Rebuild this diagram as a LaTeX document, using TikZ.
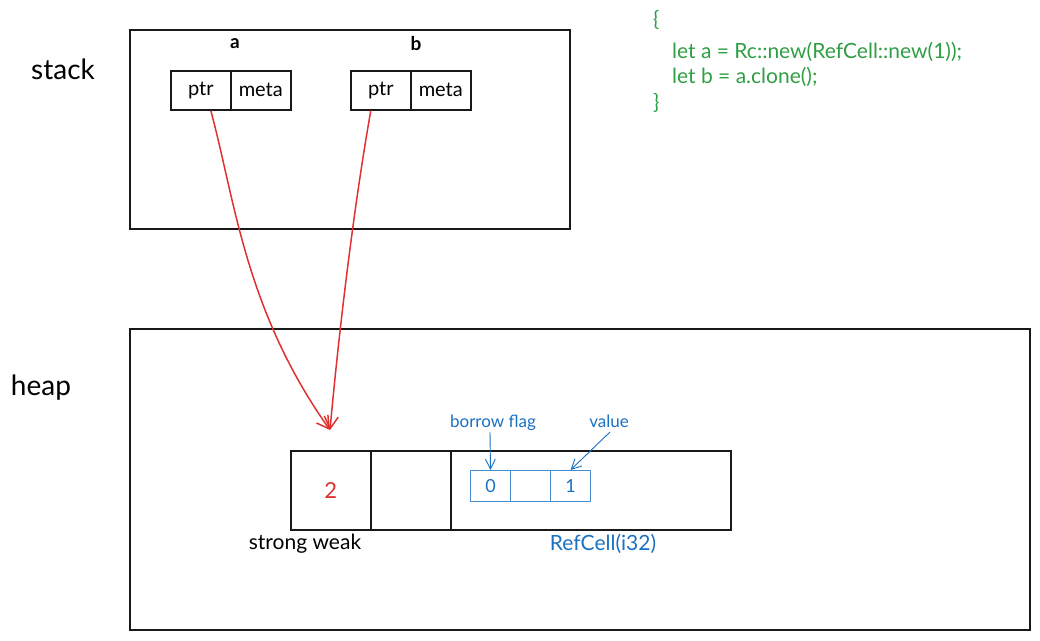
\documentclass[tikz,border=0pt]{standalone}
\usepackage{fontspec}
\setmainfont{Lato}
\usetikzlibrary{arrows.meta}
\definecolor{exred}{HTML}{E03131}
\definecolor{exgreen}{HTML}{2F9E44}
\definecolor{exblue}{HTML}{1971C2}
\begin{document}
\begin{tikzpicture}[x=1pt,y=-1pt,
  frame/.style={draw=black!90,line width=1.6pt},
  cell/.style={draw=black!90,line width=1.6pt,minimum width=60pt,minimum height=39pt,inner sep=0pt,font=\fontsize{20}{22}\selectfont,anchor=north west},
  bcell/.style={draw=exblue!80,line width=1pt,minimum width=40pt,minimum height=31pt,inner sep=0pt,font=\fontsize{18}{20}\selectfont,text=exblue,anchor=north west},
  hcell/.style={draw=black!90,line width=1.6pt,minimum width=80pt,minimum height=79pt,inner sep=0pt,anchor=north west},
  big/.style={font=\fontsize{28}{32}\selectfont},
  ptrarrow/.style={draw=exred,line width=1.5pt,-{Straight Barb[length=12pt,width=14pt,line width=1.5pt]}},
  bluearrow/.style={draw=exblue,line width=0.9pt,-{Straight Barb[length=10pt,width=10pt,line width=0.9pt]}},
  code/.style={text=exgreen,font=\fontsize{21}{24}\selectfont,anchor=west,inner sep=0pt}]
\useasboundingbox (0,0) rectangle (1040,640);
% stack
\node[big] (stacklbl) at (63,69) {stack};
\draw[frame] (130,30) rectangle (570,229);
\node[font=\fontsize{19}{22}\selectfont\bfseries] (alabel) at (235,44) {a};
\node[font=\fontsize{19}{22}\selectfont\bfseries] (blabel) at (416,44) {b};
\node[cell] (aptr) at (170,70) {ptr};
\node[cell] (ameta) at (230,70) {meta};
\node[cell] (bptr) at (350,70) {ptr};
\node[cell] (bmeta) at (410,70) {meta};
% heap
\node[big] (heaplbl) at (41,388) {heap};
\draw[frame] (130,329) rectangle (1030,630);
\node[hcell,text=exred,font=\fontsize{22}{24}\selectfont] (strong) at (290,450) {2};
\node[hcell] (weak) at (370,450) {};
\node[hcell,minimum width=280pt] (refcell) at (450,450) {};
\node[bcell] (flag) at (470,470) {0};
\node[bcell] (mid) at (510,470) {};
\node[bcell] (val) at (550,470) {1};
\node[text=exblue,font=\fontsize{17}{19}\selectfont] (flaglbl) at (493,423) {borrow flag};
\node[text=exblue,font=\fontsize{17}{19}\selectfont] (vallbl) at (609,421) {value};
\coordinate (flagtail) at (490,432);
\coordinate (valtail) at (610,432);
\draw[bluearrow] (flagtail) -- (flag.north);
\draw[bluearrow] (valtail) -- (val.north);
\node[font=\fontsize{21}{24}\selectfont] (sw) at (305,544) {strong weak};
\node[text=exblue,font=\fontsize{21}{24}\selectfont] (rclbl) at (603,544) {RefCell(i32)};
% pointers
\coordinate (target) at (330,430);
\draw[ptrarrow] ([xshift=10pt]aptr.south) .. controls (235,200) and (245,310) .. (target);
\draw[ptrarrow] ([xshift=-10pt]bptr.south) .. controls (355,200) and (340,320) .. (target);
% code
\node[code] (c1) at (653,20) {\{};
\node[code] (c2) at (672,52) {let a = Rc::new(RefCell::new(1));};
\node[code] (c3) at (672,77) {let b = a.clone();};
\node[code] (c4) at (653,103) {\}};
\end{tikzpicture}
\end{document}
